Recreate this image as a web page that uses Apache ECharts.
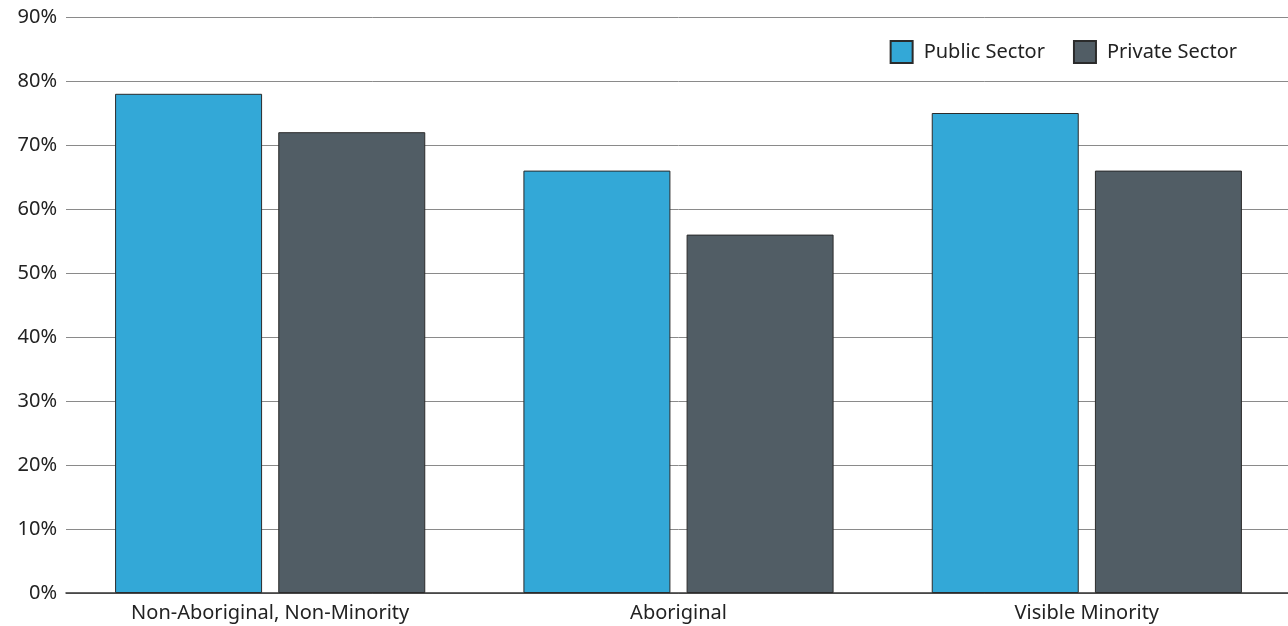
<!DOCTYPE html>
<html>
<head>
<meta charset="utf-8">
<script src="https://cdn.jsdelivr.net/npm/echarts@6/dist/echarts.min.js"></script>
<style>
  html, body { margin: 0; padding: 0; background: #ffffff; overflow: hidden; }
  #chart { width: 1291px; height: 626px; }
</style>
</head>
<body>
<div id="chart"></div>
<script>
// Share of employees by group, public vs private sector (%)
const categories = ['Non-Aboriginal, Non-Minority', 'Aboriginal', 'Visible Minority'];
const publicSector = [78, 66, 75];
const privateSector = [72, 56, 66];
const seriesNames = ['Public Sector', 'Private Sector'];

const FONT = '"Noto Sans", sans-serif';
const chart = echarts.init(document.getElementById('chart'), null, { renderer: 'canvas' });

chart.setOption({
  animation: false,
  backgroundColor: '#ffffff',
  textStyle: { fontFamily: FONT },
  // plot area runs slightly past the right edge of the page, as the gridlines do
  grid: { left: 66, right: 0, top: 17, bottom: 33, containLabel: false },
  legend: {
    data: seriesNames,
    right: 54,
    top: 40,
    padding: 0,
    itemWidth: 22,
    itemHeight: 22,
    itemGap: 28,
    icon: 'rect',
    textStyle: { fontFamily: FONT, fontSize: 20, color: '#222', padding: [0, 0, 0, 6] }
  },
  xAxis: {
    type: 'category',
    data: categories,
    axisLine: { show: true, lineStyle: { color: '#333', width: 1.5 } },
    axisTick: { show: false },
    axisLabel: { fontFamily: FONT, fontSize: 20, color: '#222', margin: 10 }
  },
  yAxis: {
    type: 'value',
    min: 0,
    max: 90,
    interval: 10,
    axisLine: { show: false },
    axisTick: { show: false },
    axisLabel: { formatter: '{value}%', fontFamily: FONT, fontSize: 20, color: '#222', margin: 9 },
    splitLine: { show: true, lineStyle: { color: '#8a8a8a', width: 1 } }
  },
  series: [
    {
      name: seriesNames[0],
      type: 'bar',
      data: publicSector,
      barWidth: '36%',
      barGap: '11%',
      itemStyle: { color: '#33a8d7', borderColor: '#2b2b2b', borderWidth: 1 }
    },
    {
      name: seriesNames[1],
      type: 'bar',
      data: privateSector,
      barWidth: '36%',
      itemStyle: { color: '#515d65', borderColor: '#2b2b2b', borderWidth: 1 }
    }
  ]
});
</script>
</body>
</html>
